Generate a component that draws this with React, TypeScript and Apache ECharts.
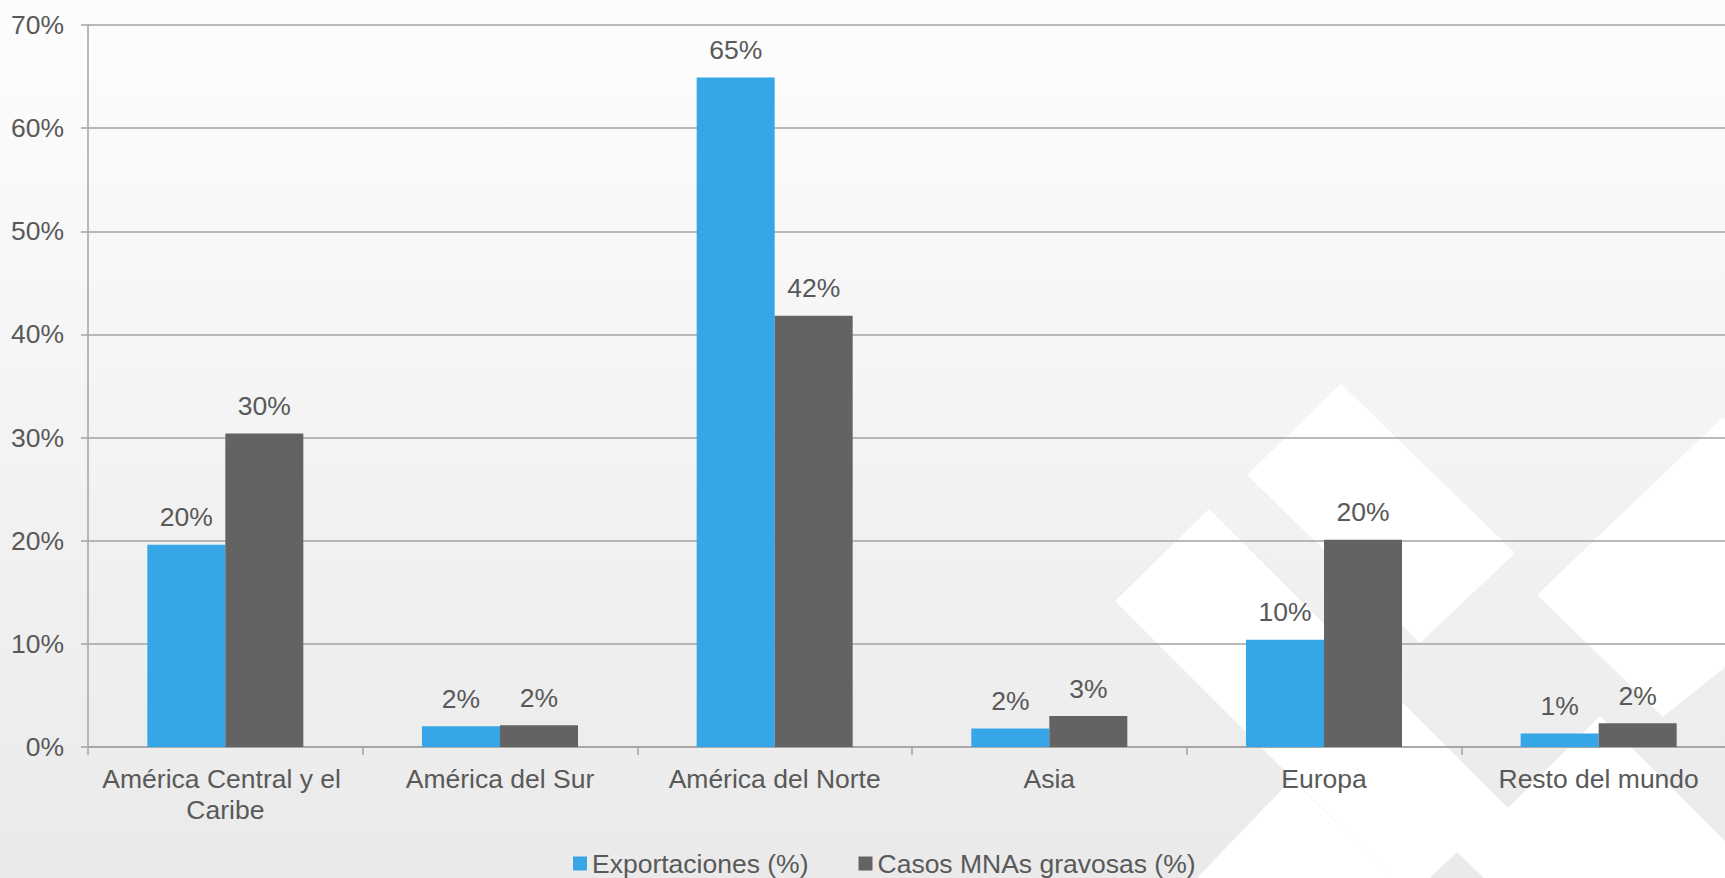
import React, { useEffect, useRef } from "react";
import * as echarts from "echarts";

const categories = [
  "América Central y el Caribe",
  "América del Sur",
  "América del Norte",
  "Asia",
  "Europa",
  "Resto del mundo",
];
const exportaciones = [19.6, 2.0, 64.9, 1.8, 10.4, 1.3];
const casosMNAs = [30.4, 2.1, 41.8, 3.0, 20.1, 2.3];
const seriesNames = ["Exportaciones (%)", "Casos MNAs gravosas (%)"];
const yMin = 0;
const yMax = 70;
const yStep = 10;

const FONT = "'Liberation Sans', Arial, sans-serif";
const FS = 26.5;
const TEXT = "#595959";
const GRID = "#a3a3a3";

const decoShapes: number[][][] = [
  [[1341, 384], [1515, 553], [1420, 643], [1247, 475]],
  [[1209, 509], [1578, 878], [1484, 878], [1457, 852], [1430, 878], [1392, 878], [1115, 601]],
  [[1292, 779], [1392, 878], [1197, 878]],
  [[1722, 418], [1740, 418], [1740, 655], [1663, 717], [1537, 595]],
  [[1500, 816], [1600, 716], [1740, 856], [1740, 878], [1562, 878]],
];

export default function App() {
  const ref = useRef<HTMLDivElement>(null);
  useEffect(() => {
    if (!ref.current) return;
    const chart = echarts.init(ref.current, undefined, { renderer: "svg" });
    const graphics: any[] = [
      {
        type: "rect",
        z: -100,
        silent: true,
        shape: { x: 0, y: 0, width: 1740, height: 878 },
        style: {
          fill: new echarts.graphic.LinearGradient(0, 0, 0, 1, [
            { offset: 0, color: "#fdfdfd" },
            { offset: 1, color: "#eaeaea" },
          ]),
        },
      },
      ...decoShapes.map((pts) => ({
        type: "polygon",
        z: -99,
        silent: true,
        shape: { points: pts },
        style: { fill: "#ffffff" },
      })),
    ];
    const labelCfg = {
      show: true,
      position: "top",
      distance: 14,
      fontSize: FS,
      fontFamily: FONT,
      color: TEXT,
      formatter: (p: any) => Math.round(p.value) + "%",
    };
    chart.setOption({
      animation: false,
      textStyle: { fontFamily: FONT },
      graphic: graphics,
      grid: { left: 88, top: 25, width: 1648, height: 722, containLabel: false },
      legend: {
        data: seriesNames,
        left: 568,
        top: 845,
        itemWidth: 14,
        itemHeight: 14,
        itemGap: 50,
        icon: "rect",
        textStyle: { fontSize: FS, color: TEXT, fontFamily: FONT },
      },
      xAxis: {
        type: "category",
        data: categories,
        axisLine: { lineStyle: { color: GRID, width: 1.5 } },
        axisTick: { show: true, length: 8, lineStyle: { color: GRID, width: 1.5 } },
        axisLabel: {
          fontSize: FS,
          fontFamily: FONT,
          color: TEXT,
          margin: 16,
          lineHeight: 31,
          width: 262,
          overflow: "break",
          interval: 0,
        },
      },
      yAxis: {
        type: "value",
        min: yMin,
        max: yMax,
        interval: yStep,
        axisLine: { show: true, lineStyle: { color: GRID, width: 1.5 } },
        axisTick: { show: true, length: 7, lineStyle: { color: GRID, width: 1.5 } },
        splitLine: { show: true, lineStyle: { color: GRID, width: 1.5 } },
        axisLabel: {
          fontSize: FS,
          fontFamily: FONT,
          color: TEXT,
          margin: 24,
          formatter: "{value}%",
        },
      },
      series: [
        {
          name: seriesNames[0],
          type: "bar",
          data: exportaciones,
          barWidth: 78,
          barGap: "0%",
          itemStyle: { color: "#37a6e7" },
          label: labelCfg,
        },
        {
          name: seriesNames[1],
          type: "bar",
          data: casosMNAs,
          barWidth: 78,
          barGap: "0%",
          itemStyle: { color: "#636363" },
          label: labelCfg,
        },
      ],
    });
    return () => chart.dispose();
  }, []);
  return (
    <div
      style={{
        position: "absolute",
        left: 0,
        top: 0,
        width: 1725,
        height: 878,
        overflow: "hidden",
      }}
    >
      <div ref={ref} style={{ width: 1740, height: 878 }} />
    </div>
  );
}
